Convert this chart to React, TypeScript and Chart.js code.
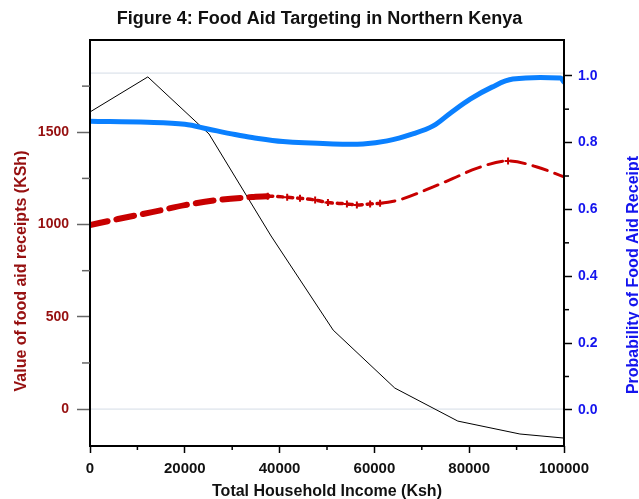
import React, { useEffect, useRef } from 'react';
import { Chart, registerables } from 'chart.js';

Chart.register(...registerables);

// ---- Data ----
const incomeBlack = [0, 12200, 25100, 38200, 51300, 64300, 77600, 90700, 100000];
const densityBlack = [1610, 1800, 1491, 938, 428, 114, -65, -135, -157];

const incomeRed = [0, 5900, 13100, 20000, 27000, 34200, 37500, 41600, 44300, 47500, 50200, 54200, 56300, 59100, 61200, 65400, 71100, 76600, 81700, 88200, 94300, 100000];
const valueRed = [997, 1030, 1067, 1105, 1133, 1149, 1154, 1148, 1142, 1133, 1119, 1112, 1106, 1112, 1115, 1135, 1190, 1250, 1306, 1345, 1312, 1258];

const incomeBlue = [0, 12200, 20000, 25100, 30600, 34200, 40700, 51300, 57600, 62700, 68100, 72400, 76000, 80200, 84800, 89200, 99200, 100000];
const probBlue = [0.864, 0.861, 0.855, 0.840, 0.824, 0.815, 0.803, 0.796, 0.796, 0.805, 0.826, 0.850, 0.888, 0.930, 0.966, 0.990, 0.993, 0.981];

const xTicks = [0, 20000, 40000, 60000, 80000, 100000];
const xMinorTicks = [10000, 30000, 50000, 70000, 90000];
const leftTicks = [0, 500, 1000, 1500];
const leftMinorTicks = [250, 750, 1250, 1750];
const rightTicks = [0, 0.2, 0.4, 0.6, 0.8, 1.0];
const rightMinorTicks = [0.1, 0.3, 0.5, 0.7, 0.9];

const titleText = 'Figure 4: Food Aid Targeting in Northern Kenya';
const xTitle = 'Total Household Income (Ksh)';
const leftTitle = 'Value of food aid receipts (KSh)';
const rightTitle = 'Probability of Food Aid Receipt';

const FONT = "'Liberation Sans', Arial, sans-serif";
const RED = '#c80000';
const DARKRED = '#961010';
const BLUE_LINE = '#0a80ff';
const BLUE_TEXT = '#1414ee';

const MID_START = 37000;
const MID_END = 61200;

const decorPlugin = {
  id: 'decor',
  beforeDatasetsDraw(chart: any) {
    const { ctx, chartArea } = chart;
    const yR = chart.scales.yR;
    const yL = chart.scales.y;
    ctx.save();
    ctx.strokeStyle = '#d4dce6';
    ctx.lineWidth = 1;
    [yR.getPixelForValue(1.008), yL.getPixelForValue(0)].forEach((py: number) => {
      ctx.beginPath();
      ctx.moveTo(chartArea.left, py);
      ctx.lineTo(chartArea.right, py);
      ctx.stroke();
    });
    ctx.restore();
  },
  afterDraw(chart: any) {
    const { ctx, chartArea } = chart;
    const { left, right, top, bottom } = chartArea;
    const xs = chart.scales.x;
    const yL = chart.scales.y;
    const yR = chart.scales.yR;
    ctx.save();
    // frame
    ctx.strokeStyle = '#000';
    ctx.lineWidth = 2;
    ctx.strokeRect(left, top, right - left, bottom - top);
    // minor ticks
    ctx.lineWidth = 1.5;
    ctx.strokeStyle = '#666';
    leftMinorTicks.forEach((v) => {
      const py = yL.getPixelForValue(v);
      ctx.beginPath();
      ctx.moveTo(left - 8, py);
      ctx.lineTo(left, py);
      ctx.stroke();
    });
    ctx.strokeStyle = '#000';
    rightMinorTicks.forEach((v) => {
      const py = yR.getPixelForValue(v);
      ctx.beginPath();
      ctx.moveTo(right, py);
      ctx.lineTo(right + 5, py);
      ctx.stroke();
    });
    xMinorTicks.forEach((v) => {
      const px = xs.getPixelForValue(v);
      ctx.beginPath();
      ctx.moveTo(px, bottom);
      ctx.lineTo(px, bottom + 4);
      ctx.stroke();
    });
    // axis titles
    ctx.font = `bold 16px ${FONT}`;
    ctx.textAlign = 'center';
    ctx.textBaseline = 'alphabetic';
    ctx.fillStyle = '#111';
    ctx.fillText(xTitle, (left + right) / 2, 496);

    ctx.save();
    ctx.translate(26, 271);
    ctx.rotate(-Math.PI / 2);
    ctx.fillStyle = DARKRED;
    ctx.fillText(leftTitle, 0, 0);
    ctx.restore();

    ctx.save();
    ctx.translate(638, 275);
    ctx.rotate(-Math.PI / 2);
    ctx.fillStyle = BLUE_TEXT;
    ctx.fillText(rightTitle, 0, 0);
    ctx.restore();

    ctx.restore();
  },
};

export default function App() {
  const ref = useRef<HTMLCanvasElement | null>(null);

  useEffect(() => {
    if (!ref.current) return;
    const redData = incomeRed.map((x, i) => ({ x, y: valueRed[i] }));
    const blueData = incomeBlue.map((x, i) => ({ x, y: probBlue[i] }));
    const blackData = incomeBlack.map((x, i) => ({ x, y: densityBlack[i] }));

    const chart = new Chart(ref.current, {
      type: 'line',
      data: {
        datasets: [
          {
            label: 'Probability',
            data: blueData,
            yAxisID: 'yR',
            borderColor: BLUE_LINE,
            borderWidth: 5,
            pointRadius: 0,
            tension: 0.35,
            borderCapStyle: 'round',
            borderJoinStyle: 'round',
            fill: false,
          },
          {
            label: 'Value',
            data: redData,
            yAxisID: 'y',
            borderColor: RED,
            borderWidth: 3,
            cubicInterpolationMode: 'monotone',
            borderCapStyle: 'round',
            fill: false,
            pointStyle: 'cross',
            pointBorderColor: RED,
            pointBorderWidth: 2,
            pointRadius: (c: any) => {
              const x = c.raw ? c.raw.x : 0;
              return (x >= MID_START && x <= MID_END) || x === 88200 ? 3.5 : 0;
            },
            segment: {
              borderWidth: (c: any) => {
                const x = c.p0.parsed.x;
                if (x < MID_START) return 6;
                if (x < MID_END) return 3.5;
                return 3;
              },
              borderDash: (c: any) => {
                const x = c.p0.parsed.x;
                if (x < MID_START) return [18, 9];
                if (x < MID_END) return [5, 5];
                return [15, 8];
              },
            },
          } as any,
          {
            label: 'Density',
            data: blackData,
            yAxisID: 'y',
            borderColor: '#000',
            borderWidth: 1,
            pointRadius: 0,
            tension: 0,
            fill: false,
          },
        ],
      },
      options: {
        animation: false,
        responsive: false,
        maintainAspectRatio: false,
        layout: { padding: 0 },
        plugins: {
          legend: { display: false },
          tooltip: { enabled: false },
          title: {
            display: true,
            text: titleText,
            color: '#111',
            font: { family: FONT, size: 18, weight: 'bold', lineHeight: 1.2 },
            padding: { top: 8, bottom: 10.4 },
          },
        },
        scales: {
          x: {
            type: 'linear',
            min: 0,
            max: 100000,
            afterBuildTicks: (s: any) => {
              s.ticks = xTicks.map((v) => ({ value: v }));
            },
            afterFit: (s: any) => {
              s.height = 53;
            },
            border: { display: false },
            grid: { drawOnChartArea: false, tickLength: 7, tickColor: '#000', tickWidth: 1.5 },
            ticks: {
              color: '#111',
              font: { family: FONT, size: 15, weight: 'bold' },
              padding: 7,
              maxRotation: 0,
              callback: (v: any) => String(v),
            },
          },
          y: {
            type: 'linear',
            position: 'left',
            min: -200,
            max: 2000,
            afterBuildTicks: (s: any) => {
              s.ticks = leftTicks.map((v) => ({ value: v }));
            },
            afterFit: (s: any) => {
              s.width = 90;
            },
            border: { display: false },
            grid: { drawOnChartArea: false, tickLength: 13, tickColor: '#666', tickWidth: 1.5 },
            ticks: {
              color: DARKRED,
              font: { family: FONT, size: 14, weight: 'bold' },
              padding: 8,
              callback: (v: any) => String(v),
            },
          },
          yR: {
            type: 'linear',
            position: 'right',
            min: -0.108,
            max: 1.107,
            afterBuildTicks: (s: any) => {
              s.ticks = rightTicks.map((v) => ({ value: v }));
            },
            afterFit: (s: any) => {
              s.width = 75;
            },
            border: { display: false },
            grid: { drawOnChartArea: false, tickLength: 8, tickColor: '#000', tickWidth: 1.5 },
            ticks: {
              color: BLUE_TEXT,
              font: { family: FONT, size: 14, weight: 'bold' },
              padding: 6,
              callback: (v: any) => Number(v).toFixed(1),
            },
          },
        },
      },
      plugins: [decorPlugin],
    } as any);

    return () => chart.destroy();
  }, []);

  return (
    <div style={{ position: 'fixed', left: 0, top: 0, width: 639, height: 499, background: '#fff' }}>
      <canvas ref={ref} width={639} height={499} style={{ display: 'block', width: 639, height: 499 }} />
    </div>
  );
}
